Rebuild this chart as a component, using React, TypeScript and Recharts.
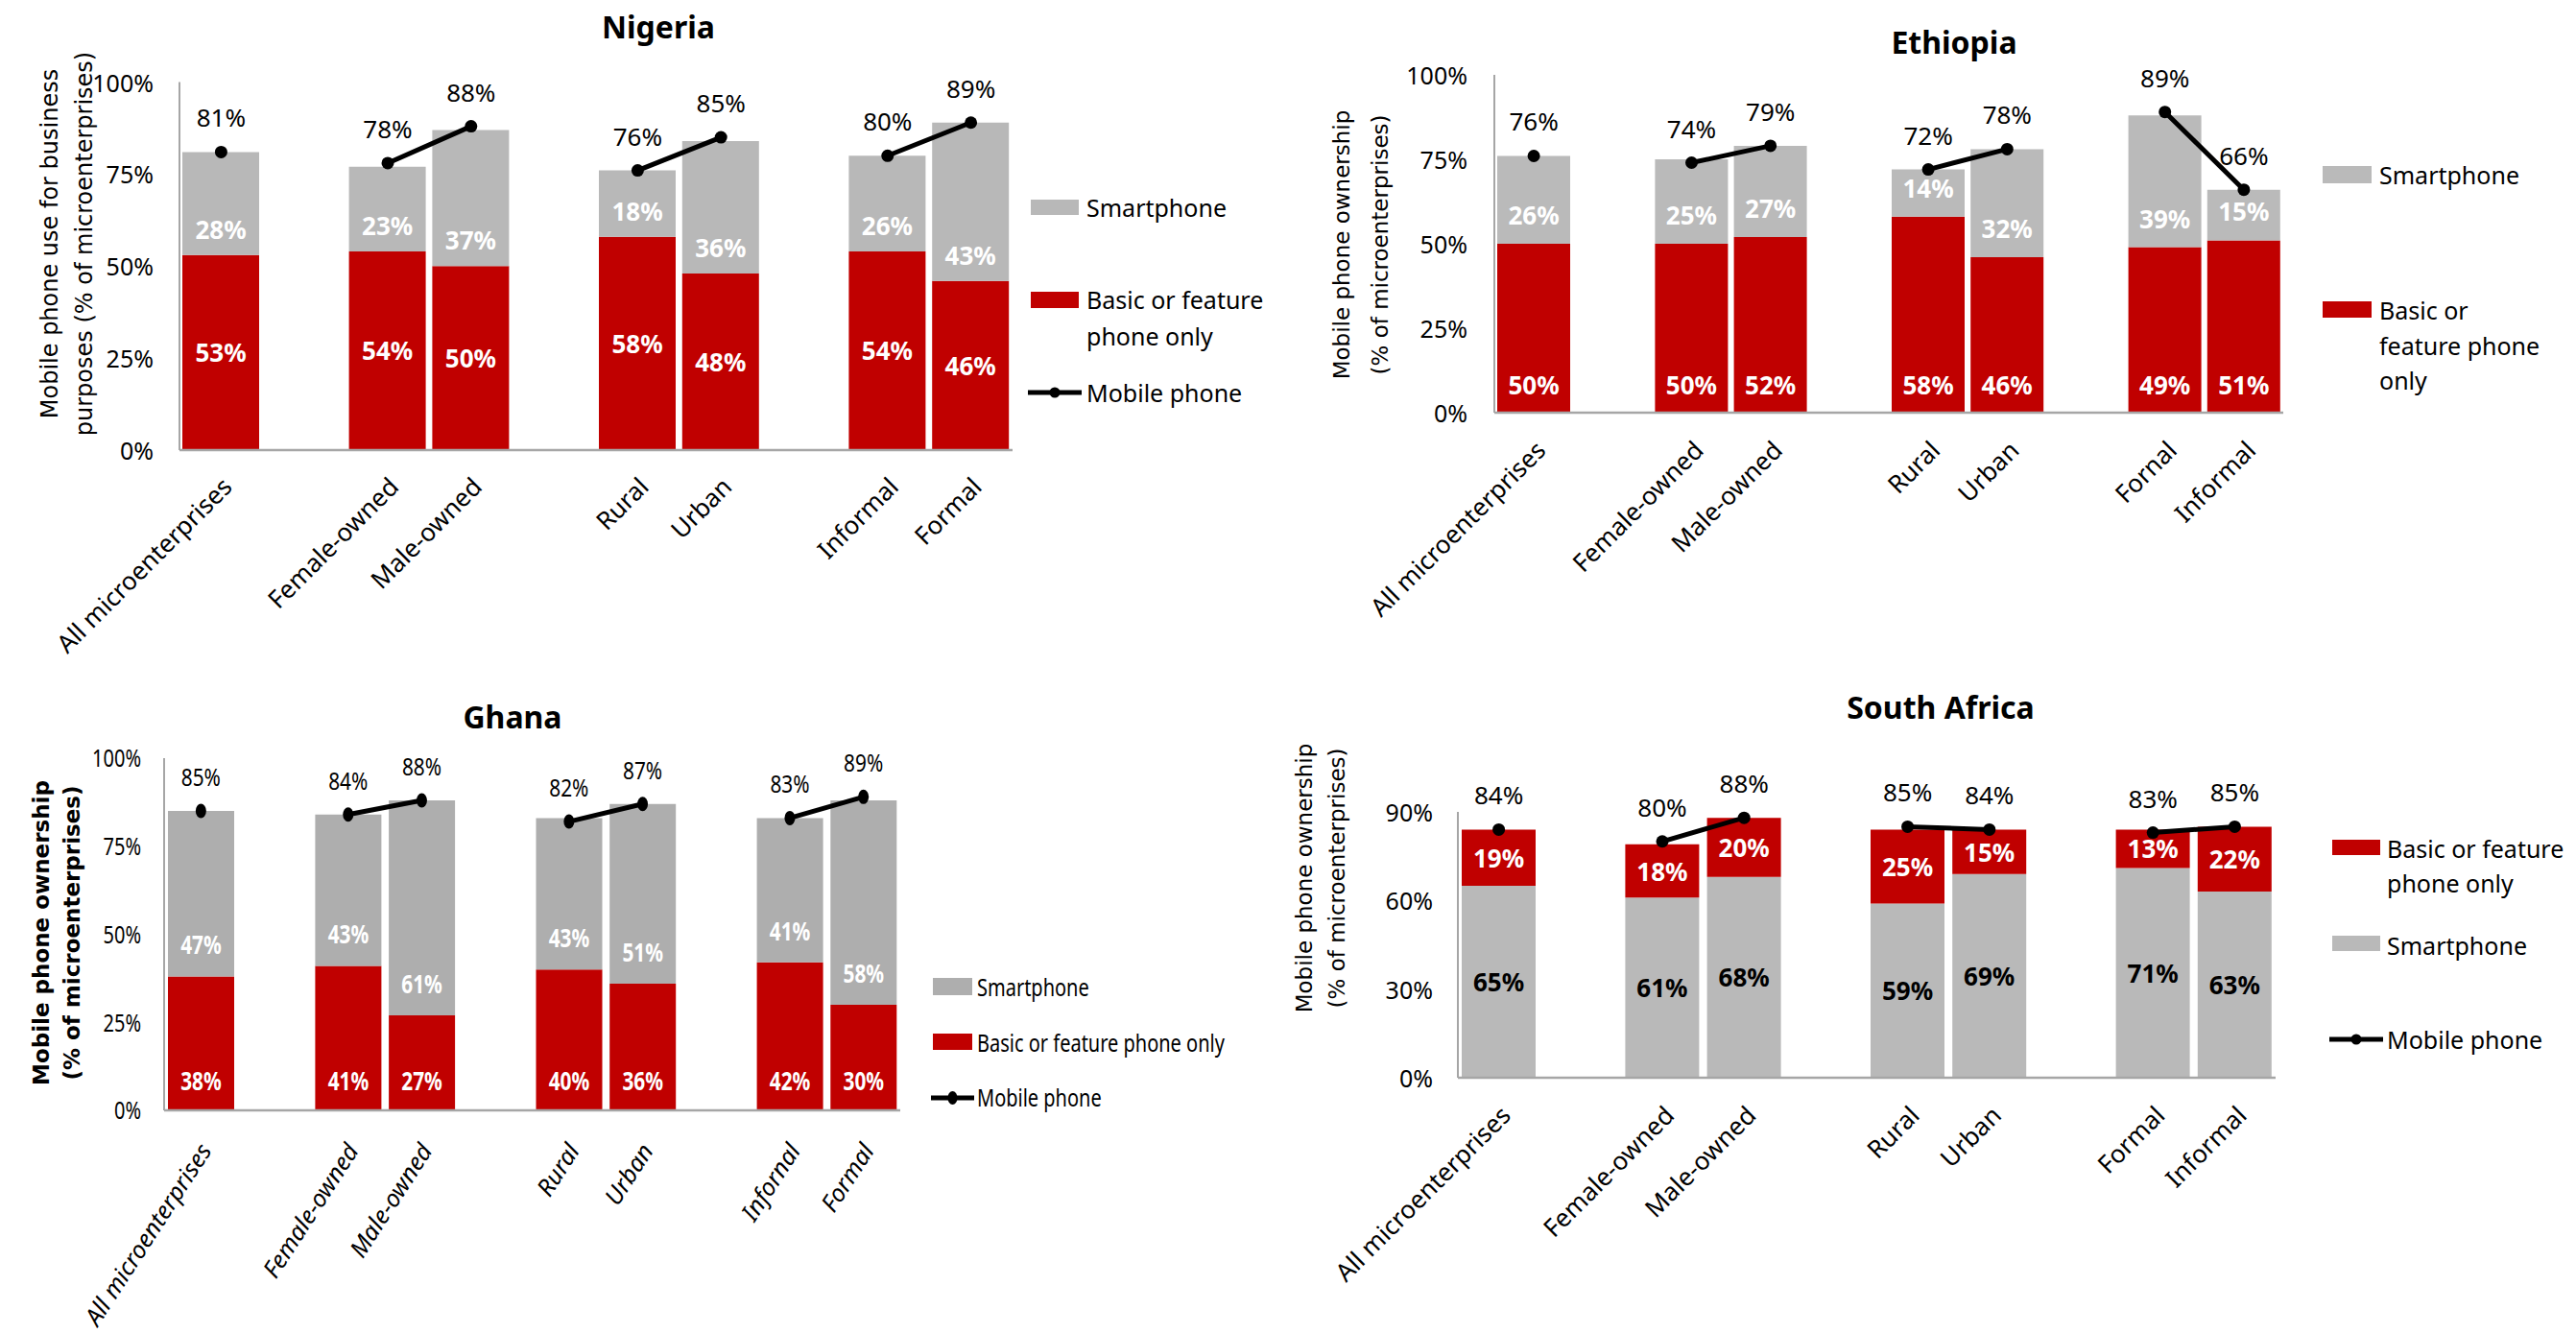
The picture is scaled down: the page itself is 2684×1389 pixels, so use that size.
import React from 'react';
import { ComposedChart, Bar, Line, XAxis, YAxis, LabelList } from 'recharts';

const RED = '#C00000';
const AXIS = '#A6A6A6';
const FONT = '"Noto Sans", "Open Sans", sans-serif';
const WIDE_FONT = '"DejaVu Sans", Verdana, sans-serif';

// bars are grouped: All | Female/Male | Rural/Urban | Formal/Informal, with an empty slot between groups
const GROUPS = [1, 2, 2, 2];

const nigeriaCategories = ['All microenterprises', 'Female-owned', 'Male-owned', 'Rural', 'Urban', 'Informal', 'Formal'];
const nigeriaBasic = [53, 54, 50, 58, 48, 54, 46];
const nigeriaSmart = [28, 23, 37, 18, 36, 26, 43];
const nigeriaMobile = [81, 78, 88, 76, 85, 80, 89];

const ethiopiaCategories = ['All microenterprises', 'Female-owned', 'Male-owned', 'Rural', 'Urban', 'Fornal', 'Informal'];
const ethiopiaBasic = [50, 50, 52, 58, 46, 49, 51];
const ethiopiaSmart = [26, 25, 27, 14, 32, 39, 15];
const ethiopiaMobile = [76, 74, 79, 72, 78, 89, 66];

const ghanaCategories = ['All microenterprises', 'Female-owned', 'Male-owned', 'Rural', 'Urban', 'Infornal', 'Formal'];
const ghanaBasic = [38, 41, 27, 40, 36, 42, 30];
const ghanaSmart = [47, 43, 61, 43, 51, 41, 58];
const ghanaMobile = [85, 84, 88, 82, 87, 83, 89];

const southAfricaCategories = ['All microenterprises', 'Female-owned', 'Male-owned', 'Rural', 'Urban', 'Formal', 'Informal'];
const southAfricaSmart = [65, 61, 68, 59, 69, 71, 63];
const southAfricaBasic = [19, 18, 20, 25, 15, 13, 22];
const southAfricaMobile = [84, 80, 88, 85, 84, 83, 85];

const pctTicks = [0, 25, 50, 75, 100];
const saTicks = [0, 30, 60, 90];

interface Row {
  key: string;
  basic: number | null;
  smart: number | null;
  mobile: number | null;
}

const buildRows = (cats: string[], basic: number[], smart: number[], mobile: number[]): Row[] => {
  const rows: Row[] = [];
  let i = 0;
  GROUPS.forEach((size, g) => {
    if (g > 0) rows.push({ key: `__gap${g}`, basic: null, smart: null, mobile: null });
    for (let k = 0; k < size; k++, i++) {
      rows.push({ key: cats[i], basic: basic[i], smart: smart[i], mobile: mobile[i] });
    }
  });
  return rows;
};

interface PanelCfg {
  box: { x: number; y: number; w: number; h: number };
  plot: { left: number; right: number; top: number; bottom: number };
  domain: [number, number];
  ticks: number[];
  gray: string;
  barSize: number;
  smartOnBottom: boolean;
  basicFromBottom: number | null; // null = centred in the segment
  smartFromBottom: number | null;
  smartColor: string;
  squeeze: number;
  italic: boolean;
  xAngle: number;
  xFont: number;
  tickDx: number;
  tickDy: number;
  yTickGap: number;
  dot: { rx: number; ry: number };
}

const nigeriaCfg: PanelCfg = {
  box: { x: 0, y: 0, w: 1062, h: 690 },
  plot: { left: 187, right: 1055, top: 85.6, bottom: 469 },
  domain: [0, 100], ticks: pctTicks, gray: '#B8B8B8', barSize: 80,
  smartOnBottom: false, basicFromBottom: null, smartFromBottom: 27, smartColor: '#fff',
  squeeze: 1, italic: false, xAngle: 45, xFont: 26, tickDx: 13, tickDy: 40, yTickGap: 27, dot: { rx: 6.5, ry: 6.5 },
};

const ethiopiaCfg: PanelCfg = {
  box: { x: 1360, y: 0, w: 1030, h: 690 },
  plot: { left: 1557, right: 2379, top: 78, bottom: 430 },
  domain: [0, 100], ticks: pctTicks, gray: '#BABABA', barSize: 76,
  smartOnBottom: false, basicFromBottom: 29, smartFromBottom: 30, smartColor: '#fff',
  squeeze: 1, italic: false, xAngle: 45, xFont: 26, tickDx: 14, tickDy: 41, yTickGap: 28, dot: { rx: 6.5, ry: 6.5 },
};

const ghanaCfg: PanelCfg = {
  box: { x: 0, y: 700, w: 945, h: 689 },
  plot: { left: 171, right: 938, top: 790, bottom: 1157 },
  domain: [0, 100], ticks: pctTicks, gray: '#AEAEAE', barSize: 69,
  smartOnBottom: false, basicFromBottom: 31, smartFromBottom: 33, smartColor: '#fff',
  squeeze: 0.8, italic: true, xAngle: 57, xFont: 25, tickDx: 12, tickDy: 42, yTickGap: 24, dot: { rx: 5.5, ry: 7.5 },
};

const southAfricaCfg: PanelCfg = {
  box: { x: 1340, y: 700, w: 1040, h: 689 },
  plot: { left: 1519, right: 2371, top: 846, bottom: 1123 },
  domain: [0, 90], ticks: saTicks, gray: '#B9B9B9', barSize: 77,
  smartOnBottom: true, basicFromBottom: null, smartFromBottom: null, smartColor: '#000',
  squeeze: 1, italic: false, xAngle: 45, xFont: 26, tickDx: 14, tickDy: 41, yTickGap: 26, dot: { rx: 6.5, ry: 6.5 },
};

const segmentLabel = (fill: string, fromBottom: number | null, sq: number) => (props: any) => {
  const { value } = props;
  const vb = props.viewBox ?? props;
  if (value == null || vb == null || vb.height == null || vb.y == null) return null;
  const top = Math.min(vb.y, vb.y + vb.height);
  const h = Math.abs(vb.height);
  const cx = vb.x + vb.width / 2;
  const cy = fromBottom == null ? top + h / 2 : top + h - fromBottom;
  return (
    <text transform={`translate(${cx},${cy}) scale(${sq},1)`} textAnchor="middle" dominantBaseline="central"
      fill={fill} fontFamily={FONT} fontWeight={700} fontSize={26}>
      {value}%
    </text>
  );
};

const mobileLabel = (sq: number) => (props: any) => {
  const { value } = props;
  const vb = props.viewBox ?? props;
  if (value == null || vb == null || vb.y == null) return null;
  const cx = vb.x + (vb.width || 0) / 2;
  return (
    <text transform={`translate(${cx},${vb.y - 36}) scale(${sq},1)`} textAnchor="middle" dominantBaseline="central"
      fill="#000" fontFamily={FONT} fontSize={26}>
      {value}%
    </text>
  );
};

const XTick: React.FC<any> = ({ x, y, payload, cfg }) => {
  const v = String(payload?.value ?? '');
  if (!v || v.startsWith('__')) return <g />;
  return (
    <text transform={`translate(${x + cfg.tickDx},${y + cfg.tickDy}) rotate(${-cfg.xAngle})`}
      textAnchor="end" fontFamily={FONT} fontSize={cfg.xFont} fontStyle={cfg.italic ? 'italic' : 'normal'} fill="#000">
      {v}
    </text>
  );
};

const YTick: React.FC<any> = ({ x, y, payload, cfg }) => (
  <text transform={`translate(${x},${y}) scale(${cfg.squeeze},1)`} textAnchor="end" dominantBaseline="central"
    fontFamily={FONT} fontSize={25} fill="#000">
    {payload.value}%
  </text>
);

const Panel: React.FC<{ cfg: PanelCfg; rows: Row[] }> = ({ cfg, rows }) => {
  const { box, plot } = cfg;
  const basicBar = (
    <Bar key="basic" dataKey="basic" stackId="s" fill={RED} barSize={cfg.barSize} isAnimationActive={false}>
      <LabelList dataKey="basic" content={segmentLabel('#fff', cfg.basicFromBottom, cfg.squeeze)} />
    </Bar>
  );
  const smartBar = (
    <Bar key="smart" dataKey="smart" stackId="s" fill={cfg.gray} barSize={cfg.barSize} isAnimationActive={false}>
      <LabelList dataKey="smart" content={segmentLabel(cfg.smartColor, cfg.smartFromBottom, cfg.squeeze)} />
    </Bar>
  );
  return (
    <div style={{ position: 'absolute', left: box.x, top: box.y }}>
      <ComposedChart
        width={box.w}
        height={box.h}
        data={rows}
        margin={{ top: plot.top - box.y, right: box.x + box.w - plot.right, bottom: 0, left: 0 }}
      >
        <XAxis
          dataKey="key"
          type="category"
          interval={0}
          height={box.y + box.h - plot.bottom}
          tickSize={0}
          tickMargin={0}
          tickLine={false}
          axisLine={{ stroke: AXIS, strokeWidth: 2.5 }}
          tick={(p: any) => <XTick {...p} cfg={cfg} />}
        />
        <YAxis
          type="number"
          domain={cfg.domain}
          ticks={cfg.ticks}
          interval={0}
          width={plot.left - box.x}
          tickSize={0}
          tickMargin={cfg.yTickGap}
          tickLine={false}
          axisLine={{ stroke: AXIS, strokeWidth: 2 }}
          tick={(p: any) => <YTick {...p} cfg={cfg} />}
        />
        {cfg.smartOnBottom ? [smartBar, basicBar] : [basicBar, smartBar]}
        <Line
          dataKey="mobile"
          type="linear"
          stroke="#000"
          strokeWidth={5}
          connectNulls={false}
          isAnimationActive={false}
          activeDot={false}
          dot={(p: any) =>
            p.cy == null || p.value == null ? (
              <g key={`d${p.index}`} />
            ) : (
              <ellipse key={`d${p.index}`} cx={p.cx} cy={p.cy} rx={cfg.dot.rx} ry={cfg.dot.ry} fill="#000" />
            )
          }
        >
          <LabelList dataKey="mobile" content={mobileLabel(cfg.squeeze)} />
        </Line>
      </ComposedChart>
    </div>
  );
};

// legend pieces
const Swatch: React.FC<{ x: number; y: number; w: number; h: number; fill: string }> = ({ x, y, w, h, fill }) => (
  <rect x={x} y={y} width={w} height={h} fill={fill} />
);

const LegendText: React.FC<{ x: number; y: number; lines: string[]; sq?: number; gap?: number }> = ({ x, y, lines, sq = 1, gap = 37 }) => (
  <>
    {lines.map((t, i) => (
      <text key={i} transform={`translate(${x},${y + i * gap}) scale(${sq},1)`} dominantBaseline="central"
        fontFamily={FONT} fontSize={25} fill="#000">
        {t}
      </text>
    ))}
  </>
);

const LegendLine: React.FC<{ x1: number; x2: number; y: number; rx?: number; ry?: number }> = ({ x1, x2, y, rx = 5.5, ry = 5.5 }) => (
  <g>
    <line x1={x1} x2={x2} y1={y} y2={y} stroke="#000" strokeWidth={5} />
    <ellipse cx={(x1 + x2) / 2} cy={y} rx={rx} ry={ry} fill="#000" />
  </g>
);

const Title: React.FC<{ x: number; y: number; text: string }> = ({ x, y, text }) => (
  <text x={x} y={y} textAnchor="middle" fontFamily={FONT} fontWeight={700} fontSize={32} fill="#000">
    {text}
  </text>
);

const AxisTitle: React.FC<{ xs: number[]; cy: number; lines: string[]; bold?: boolean; size?: number }> = ({ xs, cy, lines, bold, size = 23 }) => (
  <>
    {lines.map((t, i) => (
      <text key={i} transform={`translate(${xs[i]},${cy}) rotate(-90)`} textAnchor="middle" dominantBaseline="central"
        fontFamily={WIDE_FONT} fontSize={size} fontWeight={bold ? 700 : 400} fill="#000">
        {t}
      </text>
    ))}
  </>
);

const Decorations: React.FC = () => (
  <svg width={2684} height={1389} style={{ position: 'absolute', left: 0, top: 0 }}>
    {/* Nigeria */}
    <Title x={686} y={40} text="Nigeria" />
    <AxisTitle xs={[52, 88]} cy={254} size={24} lines={['Mobile phone use for business', 'purposes (% of microenterprises)']} />
    <Swatch x={1074} y={208} w={50} h={16} fill={nigeriaCfg.gray} />
    <LegendText x={1132} y={216} lines={['Smartphone']} />
    <Swatch x={1074} y={304} w={50} h={17} fill={RED} />
    <LegendText x={1132} y={312} lines={['Basic or feature', 'phone only']} gap={38} />
    <LegendLine x1={1071} x2={1127} y={409} />
    <LegendText x={1132} y={409} lines={['Mobile phone']} />

    {/* Ethiopia */}
    <Title x={2036} y={56} text="Ethiopia" />
    <AxisTitle xs={[1398, 1438]} cy={255} lines={['Mobile phone ownership', '(% of microenterprises)']} />
    <Swatch x={2420} y={173} w={51} h={18} fill={ethiopiaCfg.gray} />
    <LegendText x={2479} y={182} lines={['Smartphone']} />
    <Swatch x={2420} y={314} w={51} h={17} fill={RED} />
    <LegendText x={2479} y={323} lines={['Basic or', 'feature phone', 'only']} gap={36.5} />

    {/* Ghana */}
    <Title x={534} y={759} text="Ghana" />
    <AxisTitle xs={[43, 75]} cy={972} lines={['Mobile phone ownership', '(% of microenterprises)']} bold />
    <Swatch x={972} y={1019} w={41} h={18} fill={ghanaCfg.gray} />
    <LegendText x={1018} y={1029} lines={['Smartphone']} sq={0.8} />
    <Swatch x={972} y={1077} w={41} h={17} fill={RED} />
    <LegendText x={1018} y={1087} lines={['Basic or feature phone only']} sq={0.8} />
    <LegendLine x1={970} x2={1015} y={1144} rx={5} ry={7} />
    <LegendText x={1018} y={1144} lines={['Mobile phone']} sq={0.8} />

    {/* South Africa */}
    <Title x={2022} y={749} text="South Africa" />
    <AxisTitle xs={[1359, 1393]} cy={915} lines={['Mobile phone ownership', '(% of microenterprises)']} />
    <Swatch x={2430} y={875} w={50} h={16} fill={RED} />
    <LegendText x={2487} y={884} lines={['Basic or feature', 'phone only']} gap={36} />
    <Swatch x={2430} y={975} w={50} h={16} fill={southAfricaCfg.gray} />
    <LegendText x={2487} y={985} lines={['Smartphone']} />
    <LegendLine x1={2427} x2={2483} y={1083} />
    <LegendText x={2487} y={1083} lines={['Mobile phone']} />
  </svg>
);

const App: React.FC = () => {
  const nigeria = buildRows(nigeriaCategories, nigeriaBasic, nigeriaSmart, nigeriaMobile);
  const ethiopia = buildRows(ethiopiaCategories, ethiopiaBasic, ethiopiaSmart, ethiopiaMobile);
  const ghana = buildRows(ghanaCategories, ghanaBasic, ghanaSmart, ghanaMobile);
  const southAfrica = buildRows(southAfricaCategories, southAfricaBasic, southAfricaSmart, southAfricaMobile);

  return (
    <div style={{ position: 'absolute', left: 0, top: 0, width: 2684, height: 1389, background: '#fff', overflow: 'hidden' }}>
      <Decorations />
      <Panel cfg={nigeriaCfg} rows={nigeria} />
      <Panel cfg={ethiopiaCfg} rows={ethiopia} />
      <Panel cfg={ghanaCfg} rows={ghana} />
      <Panel cfg={southAfricaCfg} rows={southAfrica} />
    </div>
  );
};

export default App;
